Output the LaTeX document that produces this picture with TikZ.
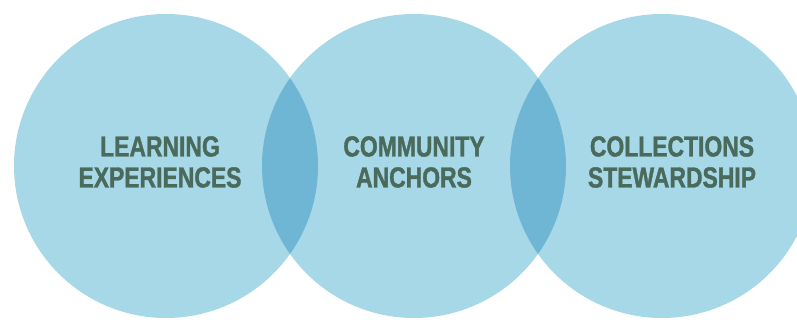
\documentclass[tikz,border=0pt]{standalone}
\usepackage{fontspec}
\newfontfamily\titelschrift{Liberation Sans Bold}[FakeStretch=0.79, FakeBold=1.2]
\definecolor{kreisblau}{HTML}{A7D8E8}
\definecolor{schnittblau}{HTML}{6FB6D4}
\definecolor{textgruen}{HTML}{4A6A5C}

\tikzset{
    kreis/.style={circle, fill=kreisblau, minimum size=304pt, inner sep=0pt},
    titel/.style={text=textgruen, font=\titelschrift\fontsize{29}{31}\selectfont, align=center}
}

\begin{document}
\begin{tikzpicture}[x=1pt, y=1pt]
    \useasboundingbox (0,0) rectangle (797,320);

    % --- Kreise ---
    \node[kreis] (lernen) at (166,154) {};
    \node[kreis] (gemeinschaft) at (414,154) {};
    \node[kreis] (sammlung) at (662,154) {};

    % --- Schnittflaechen ---
    \begin{scope}
        \clip (lernen.center) circle[radius=152];
        \fill[schnittblau] (gemeinschaft.center) circle[radius=152];
    \end{scope}
    \begin{scope}
        \clip (gemeinschaft.center) circle[radius=152];
        \fill[schnittblau] (sammlung.center) circle[radius=152];
    \end{scope}

    % --- Beschriftungen ---
    \node[titel] (lernentext) at ([xshift=-6pt, yshift=4pt]lernen.center) {LEARNING\\EXPERIENCES};
    \node[titel] (gemeinschafttext) at ([yshift=4pt]gemeinschaft.center) {COMMUNITY\\ANCHORS};
    \node[titel] (sammlungtext) at ([xshift=10pt, yshift=4pt]sammlung.center) {COLLECTIONS\\STEWARDSHIP};
\end{tikzpicture}
\end{document}
